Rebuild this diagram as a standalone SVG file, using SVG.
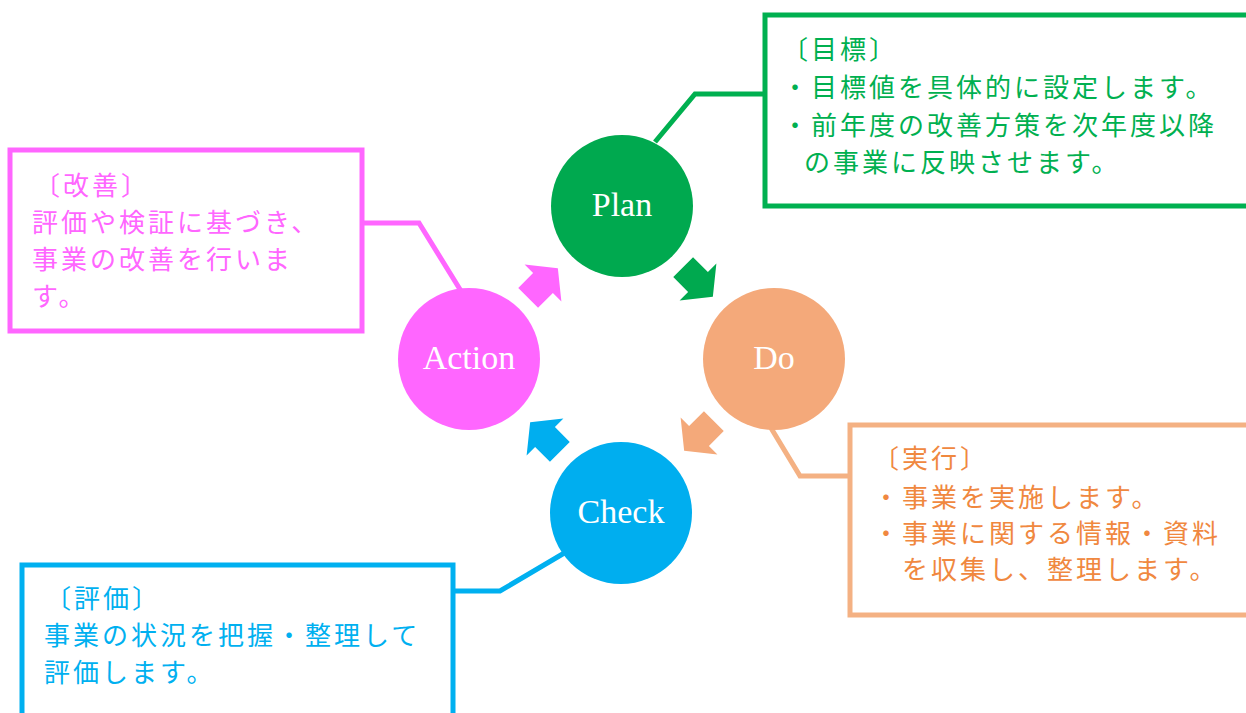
<svg xmlns="http://www.w3.org/2000/svg" width="1246" height="713" viewBox="0 0 1246 713">
<style>
.box{fill:#fff;stroke-width:5}
.conn{fill:none;stroke-width:5;stroke-linejoin:miter}
.jp{font-family:"Noto Sans CJK JP","Noto Sans",sans-serif;font-size:26px;letter-spacing:3px}
.lbl{font-family:"Liberation Serif","DejaVu Serif",serif;font-size:34px;fill:#fff;text-anchor:middle}
.g{fill:#00B050}.gs{stroke:#00B050}
.p{fill:#FF66FF}.ps{stroke:#FF66FF}
.b{fill:#00B0F0}.bs{stroke:#00B0F0}
.o{fill:#F0883F}.os{stroke:#F4B183}
</style>
<defs>
<path id="arr" d="M-21,-14 L0,-14 L0,-26 L21,0 L0,26 L0,14 L-21,14 Z"/>
</defs>
<rect width="1246" height="713" fill="#fff"/>
<g id="connectors">
<polyline class="conn gs" points="655,142 695,94 765,94"/>
<polyline class="conn ps" points="362,223 419,223 461,291"/>
<polyline class="conn bs" points="453,591 500,591 566,552"/>
<polyline class="conn os" points="771,428 800,476 850,476"/>
<use href="#arr" fill="#00A94F" transform="translate(698,282) rotate(45)"/>
<use href="#arr" fill="#F4A97A" transform="translate(699,436) rotate(135)"/>
<use href="#arr" fill="#00AEEF" transform="translate(545,437) rotate(225)"/>
<use href="#arr" fill="#FF66FF" transform="translate(543,283) rotate(315)"/>
</g>
<g id="plan">
<circle cx="622" cy="206" r="71" fill="#00A94F"/>
<text class="lbl" x="622" y="216">Plan</text>
</g>
<g id="do">
<circle cx="774" cy="359" r="71" fill="#F4A97A"/>
<text class="lbl" x="774" y="369">Do</text>
</g>
<g id="check">
<circle cx="621" cy="513" r="71" fill="#00AEEF"/>
<text class="lbl" x="621" y="523">Check</text>
</g>
<g id="action">
<circle cx="469" cy="359" r="71" fill="#FF66FF"/>
<text class="lbl" x="469" y="369">Action</text>
</g>
<g id="box-plan">
<rect class="box gs" x="765" y="15" width="500" height="191"/>
<text class="jp g" x="782" y="59">〔目標〕</text>
<text class="jp g" x="782" y="97">・目標値を具体的に設定します。</text>
<text class="jp g" x="782" y="135">・前年度の改善方策を次年度以降</text>
<text class="jp g" x="804" y="172">の事業に反映させます。</text>
</g>
<g id="box-action">
<rect class="box ps" x="10" y="150" width="352" height="181"/>
<text class="jp p" x="34" y="195">〔改善〕</text>
<text class="jp p" x="32" y="232">評価や検証に基づき、</text>
<text class="jp p" x="32" y="269">事業の改善を行いま</text>
<text class="jp p" x="32" y="306">す。</text>
</g>
<g id="box-check">
<rect class="box bs" x="22" y="565" width="431" height="200"/>
<text class="jp b" x="45" y="608">〔評価〕</text>
<text class="jp b" x="44" y="645">事業の状況を把握・整理して</text>
<text class="jp b" x="44" y="682">評価します。</text>
</g>
<g id="box-do">
<rect class="box os" x="850" y="425" width="500" height="190"/>
<text class="jp o" x="873" y="468">〔実行〕</text>
<text class="jp o" x="873" y="507">・事業を実施します。</text>
<text class="jp o" x="873" y="543">・事業に関する情報・資料</text>
<text class="jp o" x="902" y="579">を収集し、整理します。</text>
</g>
</svg>
